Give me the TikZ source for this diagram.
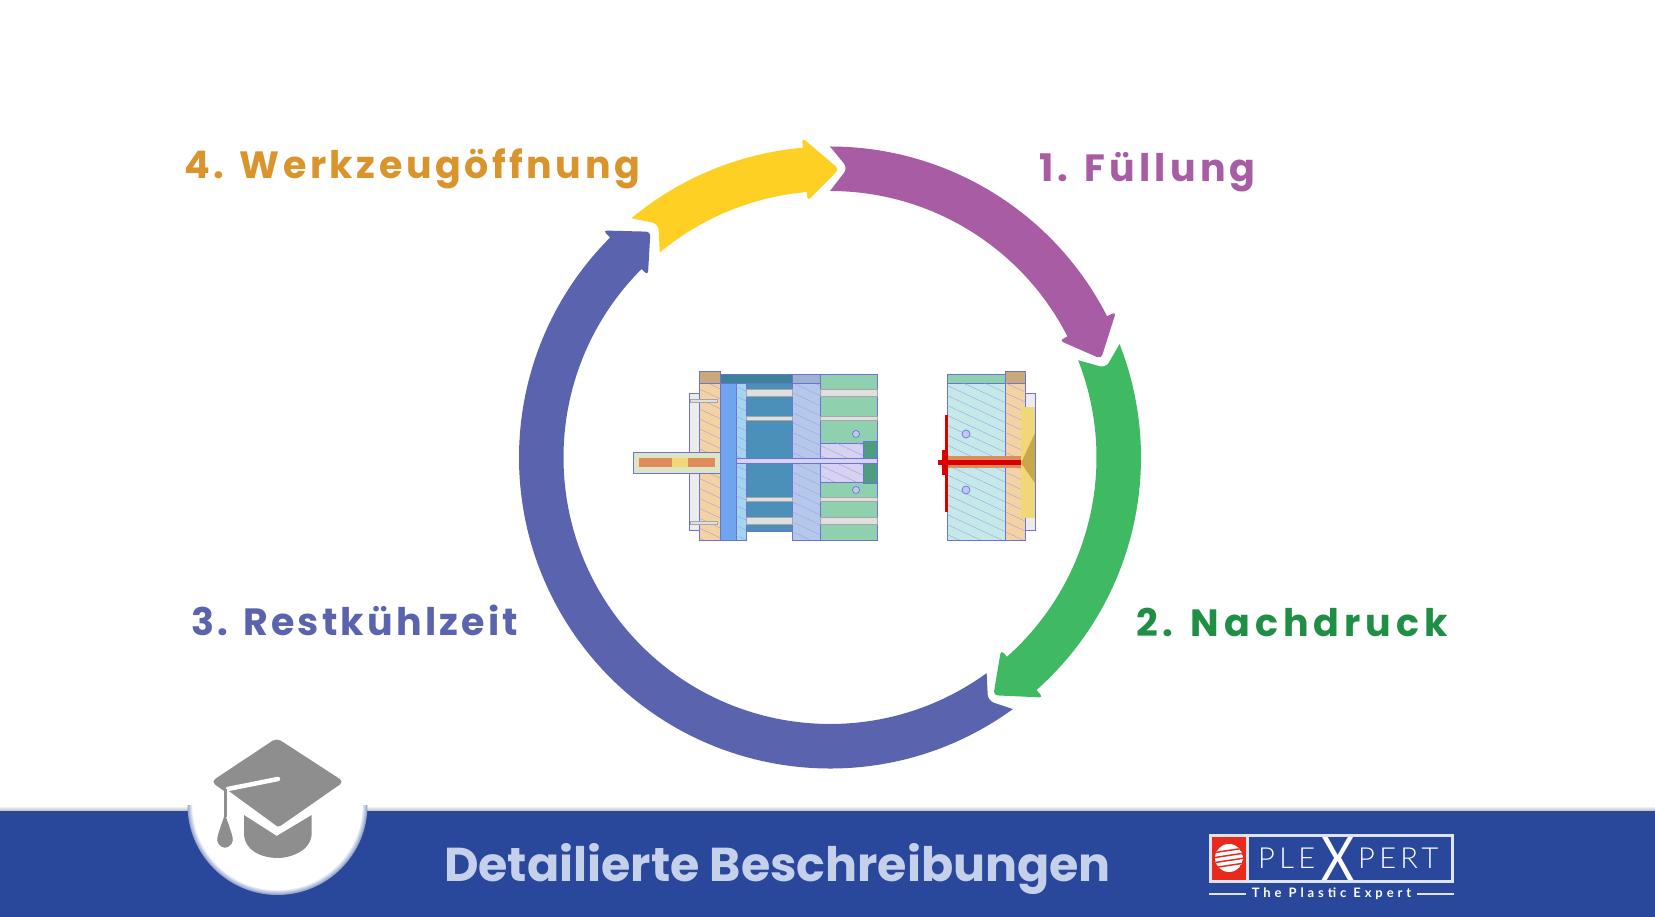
\documentclass[tikz,border=0pt]{standalone}
\usepackage{fontspec}
\usetikzlibrary{patterns.meta}
\setmainfont{Poppins}
\newfontfamily\logofont{Lato Light}
\newfontfamily\sloganfont{Lato}

\definecolor{fillpurple}{HTML}{A85CA3}
\definecolor{fillgreen}{HTML}{3FBA62}
\definecolor{fillblue}{HTML}{5A64AE}
\definecolor{fillyellow}{HTML}{FFD024}
\definecolor{textorange}{HTML}{D9952B}
\definecolor{textgreen}{HTML}{1F8F45}
\definecolor{bannerblue}{HTML}{29479B}
\definecolor{bannertext}{HTML}{C5D0EA}
\definecolor{capgray}{HTML}{8E8E8E}
\definecolor{logored}{HTML}{E8291C}
\definecolor{moldline}{HTML}{6A74D8}
\definecolor{moldteal}{HTML}{4A90B8}
\definecolor{molddeep}{HTML}{3C8296}
\definecolor{moldblue}{HTML}{6FA5EE}
\definecolor{moldsky}{HTML}{A4D4EE}
\definecolor{moldpale}{HTML}{B5C8EC}
\definecolor{moldslate}{HTML}{9DB2CF}
\definecolor{moldmint}{HTML}{8FD0AE}
\definecolor{moldlilac}{HTML}{D7D2F0}
\definecolor{moldnub}{HTML}{4E9D80}
\definecolor{moldsleeve}{HTML}{DDE5C5}
\definecolor{moldcyan}{HTML}{C5E8E8}
\definecolor{moldcream}{HTML}{F0D878}
\definecolor{moldolive}{HTML}{C9A74A}
\definecolor{moldtan}{HTML}{C8A87C}
\definecolor{moldpeach}{HTML}{F5D2A4}
\definecolor{moldcore}{HTML}{E08B5B}

\tikzset{
  phase/.style = {anchor=base west, inner sep=0pt, font=\fontsize{38}{38}\selectfont\bfseries},
  plate/.style = {draw=moldline, line width=.7pt},
  hatched/.style = {postaction={pattern={Lines[angle=-25,distance=9pt,line width=.35pt]}, pattern color=moldline!70}},
  pin/.style = {fill=gray!25, draw=gray!70, line width=.5pt},
  logotext/.style = {anchor=base west, inner sep=0pt, text=white, font=\logofont\fontsize{29}{29}\selectfont}
}

% tail, notch, neck, tip (all in degrees around the ring centre)
\newcommand{\ringarrow}[5]{
  \fill[#1] (#2:311) arc[start angle=#2, end angle=#4, radius=311]
    [rounded corners=4pt] -- (#4:321) -- (#5:288.5) -- (#4:257.5) [sharp corners] -- (#4:266.5)
    arc[start angle=#4, end angle=#2, radius=266.5]
    [rounded corners=6pt] -- (#3:290) [sharp corners] -- cycle;
}

\begin{document}
\begin{tikzpicture}[x=1pt, y=1pt]

\useasboundingbox (0,0) rectangle (1655,917);
\fill[white] (0,0) rectangle (1655,917);

% ring
\begin{scope}[shift={(830,459.5)}]
\ringarrow{fillpurple}{90}{86.5}{27}{20}
\ringarrow{fillgreen}{21.4}{18}{-48.4}{-55.5}
\ringarrow{fillblue}{-54}{-57}{-225}{-231.5}
\ringarrow{fillyellow}{129.7}{126.3}{95}{88.2}
\end{scope}

% labels
\node[phase, text=textorange] (werkzeug) at (184,738) {\addfontfeature{LetterSpace=9.3}4. Werkzeugöffnung};
\node[phase, text=fillpurple] (fuellung) at (1039,735) {\addfontfeature{LetterSpace=11}1. Füllung};
\node[phase, text=textgreen] (nachdruck) at (1136,280.5) {\addfontfeature{LetterSpace=13}2. Nachdruck};
\node[phase, text=fillblue] (restkuehl) at (191,281.5) {\addfontfeature{LetterSpace=8.5}3. Restkühlzeit};

% mould, left half
\filldraw[plate, fill=gray!15] (689,387) rectangle (700,524);
\filldraw[plate, fill=moldpeach, hatched] (699.3,377) rectangle (720,533.7);
\filldraw[plate, fill=moldtan] (699.3,533.7) rectangle (720,545.3);
\filldraw[plate, fill=moldteal] (746,385.3) rectangle (792.7,543);
\filldraw[plate, fill=moldblue] (720,377) rectangle (736,533.7);
\filldraw[plate, fill=moldsky, hatched] (736,377) rectangle (746,533.7);
\filldraw[plate, fill=molddeep] (720,533.7) rectangle (792.7,543);
\filldraw[plate, fill=moldpale, hatched] (792.7,377) rectangle (820,533.7);
\filldraw[plate, fill=moldslate] (792.7,533.7) rectangle (820,543);
\filldraw[plate, fill=moldmint] (820,377) rectangle (877.3,543);
\foreach \piny/\pinh in {524/3.5, 499/2.2, 418/2.2, 396/3.5} {
  \filldraw[pin] (746,\piny-\pinh) rectangle (792.7,\piny+\pinh);
  \filldraw[pin] (820,\piny-\pinh) rectangle (877,\piny+\pinh);
}
\foreach \boltx/\bolty in {690/516, 690/394, 1007/516, 1007/394} {
  \filldraw[pin] (\boltx,\bolty-1.5) rectangle (\boltx+27,\bolty+1.5);
}
\filldraw[plate, fill=moldlilac, hatched] (820,435) rectangle (863,474);
\filldraw[plate, fill=moldnub] (863,434) rectangle (877,476);
\filldraw[plate, fill=moldlilac] (736,454) rectangle (877,459);
\filldraw[plate, fill=moldline!40] (856,483) circle (3.5);
\filldraw[plate, fill=moldline!40] (856,427) circle (3.5);
\filldraw[plate, fill=moldsleeve] (633,444) rectangle (720,465);
\fill[moldcore] (639,450) rectangle (672,459);
\fill[moldcream] (672,450) rectangle (688,459);
\fill[moldcore] (688,450) rectangle (715,459);

% mould, right half
\filldraw[plate, fill=gray!15] (1025,387) rectangle (1035,524);
\filldraw[plate, fill=moldmint] (947,533.7) rectangle (1005,543);
\filldraw[plate, fill=moldcyan, hatched] (947,377) rectangle (1005,533.7);
\filldraw[plate, fill=moldtan] (1005,533.7) rectangle (1025.7,545.3);
\filldraw[plate, fill=moldpeach, hatched] (1005,377) rectangle (1025.7,533.7);
\fill[moldcream] (1021,399) rectangle (1035,510);
\fill[moldolive] (1021,454) -- (1035,484) -- (1035,434) -- cycle;
\fill[moldcore] (948,449) rectangle (1021,461);
\fill[red!85!black] (945,405) rectangle (947.5,502);
\fill[red!85!black] (938,452) rectangle (1021,457);
\fill[red!85!black] (942,442) rectangle (948,467);
\filldraw[plate, fill=moldline!40] (966,483) circle (4);
\filldraw[plate, fill=moldline!40] (966,427) circle (4);

% banner
\fill[bannerblue] (0,0) rectangle (1655,106);
\shade[top color=white, bottom color=gray!55] (0,106) rectangle (1655,111);
\begin{scope}
\clip (0,0) rectangle (1655,111);
\foreach \glow in {0,...,6} {
  \fill[bannerblue!\the\numexpr 50-\glow*8\relax!white] (277.5,112) circle (90-\glow*.8);
}
\end{scope}
\fill[white] (277.5,112) circle (85);

% graduation cap
\fill[capgray, rounded corners=5pt] (276.7,179) -- (344,135.3) -- (276.7,88.5) -- (211,135.3) -- cycle;
\fill[capgray] (244,102) -- (276.7,81) -- (311.7,102) -- (311.7,84) .. controls (311.7,66) and (290,59) .. (278,59) .. controls (262,59) and (244,66) .. (244,84) -- cycle;
\draw[white, line width=4.5pt, line cap=round] (228,128) -- (278,138);
\draw[white, line width=3pt] (226,126) -- (276.7,89);
\fill[capgray] (223.5,128) rectangle (226.5,100);
\fill[capgray] (225,103) .. controls (231,85) and (235,77) .. (231.5,73) .. controls (227,68) and (223,68) .. (218.5,73) .. controls (215,77) and (219,85) .. (225,103);

% logo
\draw[white!85!bannerblue, line width=3pt] (1210.8,35.8) rectangle (1452.8,81.2);
\fill[logored] (1212.3,37.3) rectangle (1246,79.7);
\fill[white!85!bannerblue] (1246,37.3) rectangle (1249,79.7);
\begin{scope}
\clip (1229,59) circle (14);
\fill[white] (1229,59) circle (14);
\foreach \stripe in {48,53,58,63} {
  \fill[logored] (1210,\stripe) -- (1250,\stripe+6) -- (1250,\stripe+7.5) -- (1210,\stripe+1.5) -- cycle;
}
\end{scope}
\node[logotext] (ple) at (1258,48) {\addfontfeature{LetterSpace=15}PLE};
\node[logotext, font=\sloganfont\fontsize{60}{60}\selectfont, anchor=center, xscale=.85] (bigx) at (1338.5,58) {X};
\node[logotext] (pert) at (1358,48) {\addfontfeature{LetterSpace=15}PERT};
\node[logotext, anchor=center, font=\sloganfont\bfseries\fontsize{13}{13}\selectfont] (slogan) at (1331.5,23) {\addfontfeature{LetterSpace=30}The Plastic Expert};
\coordinate (ruleA) at (1209,23);
\coordinate (ruleB) at (1246,23);
\coordinate (ruleC) at (1417,23);
\coordinate (ruleD) at (1454,23);
\draw[white!85!bannerblue, line width=2.5pt] (ruleA) -- (ruleB);
\draw[white!85!bannerblue, line width=2.5pt] (ruleC) -- (ruleD);

% banner title
\node[anchor=base west, inner sep=0pt, text=bannertext, font=\fontsize{47.5}{47.5}\selectfont\bfseries] (title) at (444,35) {Detailierte Beschreibungen};

\end{tikzpicture}
\end{document}
